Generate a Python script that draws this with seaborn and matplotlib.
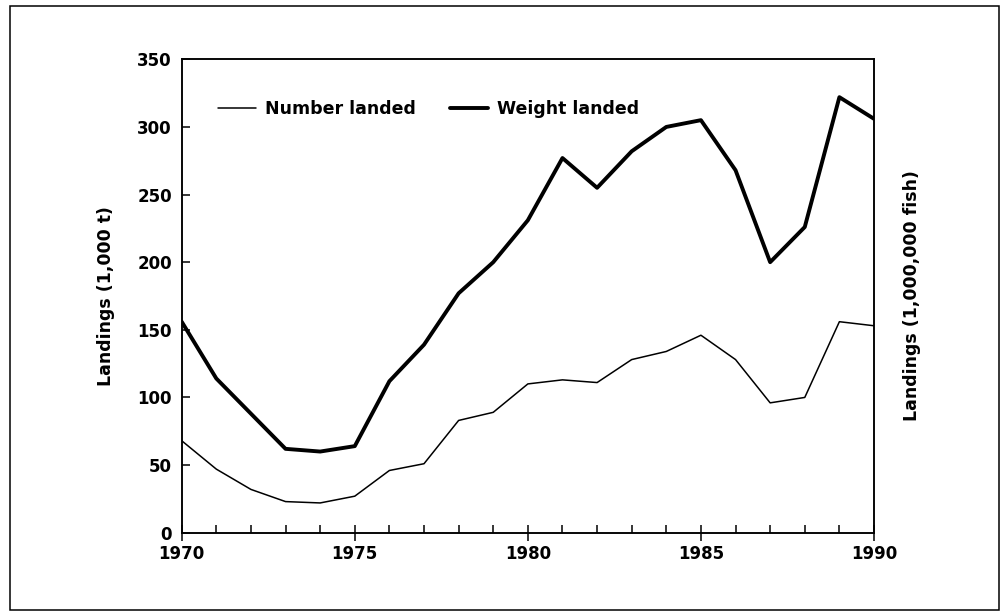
import pandas as pd
import seaborn as sns
import matplotlib.pyplot as plt
from matplotlib.patches import Rectangle
from matplotlib.ticker import MultipleLocator

# Values
years = list(range(1970, 1991))
weight_landed = [156, 114, 88, 62, 60, 64, 112, 139, 177, 200, 231, 277, 255,
                 282, 300, 305, 268, 200, 226, 322, 306]
number_landed = [68, 47, 32, 23, 22, 27, 46, 51, 83, 89, 110, 113, 111,
                 128, 134, 146, 128, 96, 100, 156, 153]

df = pd.DataFrame({'Year': years, 'Number landed': number_landed,
                   'Weight landed': weight_landed})

sns.set_theme(style='ticks')
plt.rcParams['font.family'] = ['DejaVu Sans']
plt.rcParams['font.weight'] = 'bold'
plt.rcParams['text.color'] = 'black'
plt.rcParams['axes.labelcolor'] = 'black'
plt.rcParams['xtick.color'] = 'black'
plt.rcParams['ytick.color'] = 'black'

fig = plt.figure(figsize=(10, 6.13), dpi=100)
ax = fig.add_axes([0.1817, 1 - 532.7 / 613, 0.6923, (532.7 - 59.3) / 613])

sns.lineplot(x='Year', y='Number landed', data=df, ax=ax, color='black',
             linewidth=1.1, label='Number landed')
sns.lineplot(x='Year', y='Weight landed', data=df, ax=ax, color='black',
             linewidth=2.8, label='Weight landed')

ax.set_xlim(1970, 1990)
ax.set_ylim(0, 350)
ax.xaxis.set_major_locator(MultipleLocator(5))
ax.xaxis.set_minor_locator(MultipleLocator(1))
ax.yaxis.set_major_locator(MultipleLocator(50))

for s in ax.spines.values():
    s.set_visible(True)
    s.set_linewidth(1.1)
    s.set_color('black')

ax.tick_params(axis='x', which='major', direction='inout', length=11,
               width=1.1, pad=3, labelsize=12, colors='black')
ax.tick_params(axis='x', which='minor', direction='in', length=5.5,
               width=1.1)
ax.tick_params(axis='y', which='major', direction='in', length=5.5,
               width=1.1, pad=7, labelsize=12, colors='black')

ax.set_xlabel('')
ax.set_ylabel('Landings (1,000 t)', fontsize=12.5, fontweight='bold',
              labelpad=16, color='black')

ax2 = ax.twinx()
ax2.set_ylim(0, 350)
ax2.set_yticks([])
ax2.set_ylabel('Landings (1,000,000 fish)', fontsize=12.5, fontweight='bold',
               labelpad=21, color='black')
for s in ax2.spines.values():
    s.set_linewidth(1.1)
    s.set_color('black')

leg = ax.legend(loc='center left', bbox_to_anchor=(0.052, 0.895), ncol=2,
                frameon=False, fontsize=12.5, handlelength=2.2,
                handletextpad=0.5, columnspacing=2.0, borderpad=0,
                borderaxespad=0)
for t in leg.get_texts():
    t.set_fontweight('bold')
    t.set_color('black')

# frame around the whole figure
fig.patches.append(Rectangle((10 / 1000, 1 - 610 / 613), 989 / 1000, 604 / 613,
                             transform=fig.transFigure, fill=False,
                             edgecolor='black', linewidth=1.1))

fig.savefig('out.png', dpi=100)
